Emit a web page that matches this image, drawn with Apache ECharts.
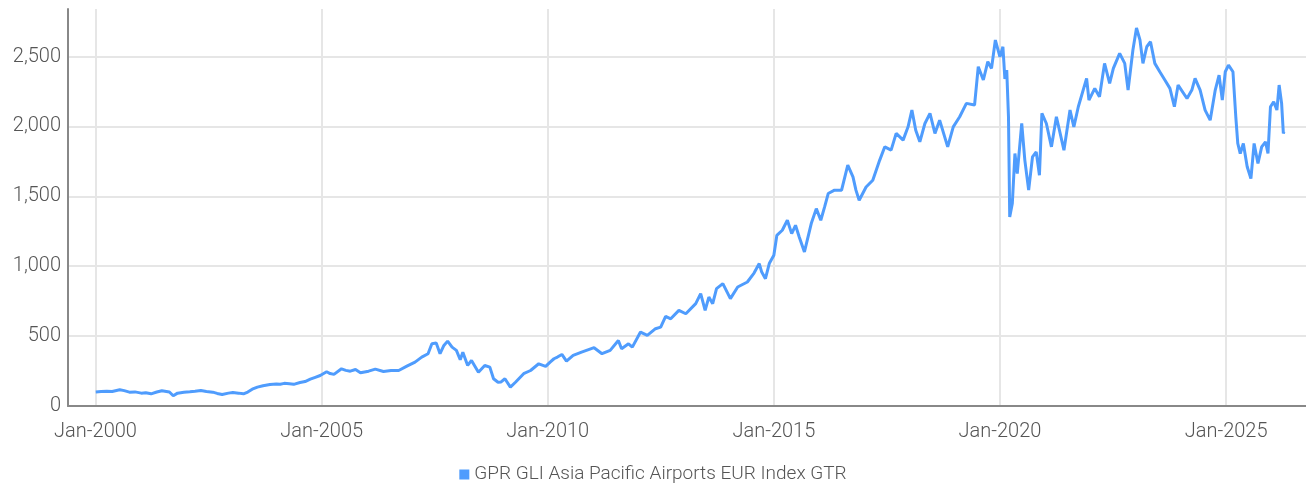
<!DOCTYPE html>
<html>
<head>
<meta charset="utf-8">
<script src="https://cdn.jsdelivr.net/npm/echarts@6/dist/echarts.min.js"></script>
<style>
  html, body { margin: 0; padding: 0; background: #fff; }
  #chart { width: 1306px; height: 493px; }
</style>
</head>
<body>
<div id="chart"></div>
<script>
const seriesName = 'GPR GLI Asia Pacific Airports EUR Index GTR'

const dates = [
  '2000-01-03', '2000-02-15', '2000-04-01', '2000-05-15', '2000-07-15', '2000-08-20', '2000-10-01', '2000-11-15',
  '2001-01-05', '2001-02-10', '2001-03-25', '2001-05-10', '2001-06-20', '2001-08-20', '2001-09-20', '2001-10-25', '2001-12-15',
  '2002-02-01', '2002-03-15', '2002-05-01', '2002-06-15', '2002-08-05', '2002-09-10', '2002-10-20', '2002-12-10',
  '2003-01-15', '2003-03-01', '2003-04-10', '2003-05-15', '2003-06-20', '2003-08-01', '2003-09-15', '2003-11-10',
  '2004-01-01', '2004-02-01', '2004-03-05', '2004-04-15', '2004-05-20', '2004-07-10', '2004-08-20', '2004-10-01', '2004-11-10', '2004-12-20',
  '2005-02-10', '2005-03-10', '2005-04-10', '2005-06-10', '2005-07-15', '2005-08-20', '2005-10-01', '2005-11-10',
  '2006-01-15', '2006-03-10', '2006-05-15', '2006-07-15', '2006-09-15', '2006-11-20',
  '2007-01-25', '2007-03-20', '2007-05-10', '2007-06-10', '2007-07-15', '2007-08-15', '2007-09-15', '2007-10-15', '2007-11-20', '2007-12-25',
  '2008-01-25', '2008-02-15', '2008-03-25', '2008-04-25', '2008-06-20', '2008-08-10', '2008-09-20', '2008-10-20', '2008-11-25', '2008-12-20',
  '2009-01-20', '2009-03-05', '2009-04-15', '2009-06-20', '2009-08-15', '2009-10-20', '2009-12-15',
  '2010-01-20', '2010-02-20', '2010-03-20', '2010-04-25', '2010-06-01', '2010-07-25', '2010-10-01',
  '2011-01-10', '2011-03-15', '2011-05-20', '2011-07-25', '2011-08-20', '2011-10-15', '2011-11-15',
  '2012-01-20', '2012-03-15', '2012-05-20', '2012-07-01', '2012-08-10', '2012-09-20', '2012-11-25',
  '2013-01-20', '2013-04-10', '2013-05-20', '2013-06-25', '2013-07-25', '2013-08-25', '2013-09-25', '2013-11-15',
  '2014-01-15', '2014-03-15', '2014-06-01', '2014-07-25', '2014-09-05', '2014-09-25', '2014-10-25', '2014-11-25',
  '2015-01-01', '2015-01-25', '2015-03-10', '2015-04-20', '2015-05-25', '2015-06-25', '2015-07-25', '2015-09-05', '2015-10-30', '2015-12-10',
  '2016-01-15', '2016-02-15', '2016-03-15', '2016-05-05', '2016-07-01', '2016-08-20', '2016-10-01', '2016-10-25', '2016-11-20',
  '2017-01-15', '2017-03-10', '2017-05-05', '2017-06-15', '2017-08-05', '2017-09-15', '2017-11-10', '2017-12-20',
  '2018-01-20', '2018-02-20', '2018-03-25', '2018-05-05', '2018-06-15', '2018-07-25', '2018-09-01', '2018-11-05', '2018-12-20',
  '2019-02-10', '2019-04-05', '2019-06-10', '2019-07-10', '2019-08-20', '2019-09-25', '2019-10-25', '2019-11-25',
  '2020-01-01', '2020-01-25', '2020-02-10', '2020-02-25', '2020-03-10', '2020-03-20', '2020-04-10', '2020-05-01', '2020-05-20',
  '2020-06-25', '2020-07-20', '2020-08-20', '2020-09-20', '2020-10-20', '2020-11-15', '2020-12-05',
  '2021-01-10', '2021-02-20', '2021-04-01', '2021-06-01', '2021-07-20', '2021-08-20', '2021-09-25', '2021-12-01', '2021-12-20',
  '2022-02-05', '2022-03-15', '2022-04-25', '2022-06-05', '2022-07-05', '2022-08-25', '2022-10-05', '2022-11-01', '2022-12-10',
  '2023-01-08', '2023-02-05', '2023-03-01', '2023-04-01', '2023-05-01', '2023-06-05', '2023-07-15', '2023-08-25', '2023-10-05', '2023-11-10', '2023-12-10',
  '2024-02-20', '2024-03-30', '2024-04-25', '2024-06-05', '2024-07-15', '2024-08-25', '2024-10-05', '2024-11-05', '2024-12-01', '2024-12-25',
  '2025-01-20', '2025-02-25', '2025-03-20', '2025-04-05', '2025-04-25', '2025-05-20', '2025-06-20', '2025-07-20', '2025-08-15',
  '2025-09-15', '2025-10-15', '2025-11-15', '2025-12-05', '2025-12-25',
  '2026-01-20', '2026-02-15', '2026-03-05', '2026-03-25', '2026-04-08', '2026-04-14'
]

const values = [
  100, 103, 106, 104, 116, 110, 99, 101,
  92, 95, 87, 100, 109, 100, 73, 92, 98,
  102, 106, 111, 104, 99, 90, 82, 92,
  97, 92, 87, 100, 120, 135, 145, 154,
  158, 156, 162, 159, 155, 168, 175, 192, 205, 218,
  245, 232, 226, 266, 255, 249, 261, 238,
  249, 264, 247, 254, 254, 285,
  314, 350, 374, 445, 450, 374, 433, 464, 421, 398,
  331, 385, 290, 326, 242, 290, 278, 195, 170, 172,
  195, 135, 170, 231, 254, 302, 283,
  314, 338, 350, 369, 321, 362, 385,
  417, 374, 398, 469, 410, 445, 421,
  529, 505, 553, 564, 641, 624, 684,
  660, 732, 804, 684, 779, 732, 840, 875,
  768, 851, 887, 951, 1019, 958, 911, 1019,
  1078, 1220, 1257, 1329, 1233, 1293, 1209, 1102, 1305, 1412,
  1329, 1424, 1520, 1544, 1544, 1723, 1639, 1544, 1472,
  1567, 1615, 1759, 1854, 1830, 1950, 1902, 1997,
  2117, 1973, 1890, 2021, 2093, 1950, 2045, 1854, 1997,
  2069, 2165, 2153, 2427, 2332, 2463, 2415, 2618,
  2498, 2570, 2340, 2403, 2069, 1352, 1448, 1806, 1663,
  2021, 1759, 1544, 1782, 1818, 1651, 2093,
  2021, 1854, 2069, 1830, 2117, 1997, 2141, 2344, 2188,
  2272, 2212, 2451, 2308, 2415, 2523, 2451, 2260, 2547,
  2705, 2618, 2451, 2570, 2606, 2451, 2391, 2332, 2272, 2141, 2296,
  2200, 2260, 2344, 2260, 2117, 2045, 2260, 2367, 2188, 2391,
  2439, 2391, 2069, 1878, 1806, 1878, 1711, 1627, 1878,
  1735, 1854, 1890, 1806, 2141,
  2176, 2117, 2296, 2165, 1950, 1961
]

const yTicks = [0, 500, 1000, 1500, 2000, 2500]
const xTickYears = [2000, 2005, 2010, 2015, 2020, 2025]

const chart = echarts.init(document.getElementById('chart'))
const font = 'Roboto'
const xTicks = xTickYears.map(y => Date.UTC(y, 0, 1))

const option = {
  animation: false,
  grid: {
    left: 68,
    right: 0,
    top: 9,
    bottom: 87
  },
  legend: {
    bottom: 4,
    left: 'center',
    icon: 'rect',
    itemWidth: 10,
    itemHeight: 10,
    itemGap: 4,
    textStyle: {
      fontFamily: font,
      fontWeight: 300,
      fontSize: 19,
      color: '#555'
    },
    data: [seriesName]
  },
  xAxis: {
    type: 'value',
    min: Date.UTC(1999, 4, 24),
    max: Date.UTC(2026, 9, 8),
    offset: 2,
    axisLine: { lineStyle: { color: '#888', width: 2 } },
    axisTick: { show: false, customValues: xTicks },
    splitLine: { show: true, lineStyle: { color: '#e6e6e6', width: 2 } },
    axisLabel: {
      customValues: xTicks,
      margin: 14,
      fontFamily: font,
      fontWeight: 300,
      fontSize: 20,
      color: '#555',
      formatter: v => 'Jan-' + new Date(v).getUTCFullYear()
    }
  },
  yAxis: {
    type: 'value',
    min: 0,
    max: 2840,
    interval: 500,
    axisLine: { show: true, lineStyle: { color: '#888', width: 2 } },
    axisTick: { show: false },
    splitLine: { show: true, showMaxLine: false, lineStyle: { color: '#e6e6e6', width: 2 } },
    axisLabel: {
      showMaxLabel: false,
      margin: 7,
      fontFamily: font,
      fontWeight: 300,
      fontSize: 20,
      color: '#555',
      formatter: v => yTicks.includes(v) ? v.toLocaleString('en-US') : ''
    }
  },
  series: [
    {
      name: seriesName,
      type: 'line',
      showSymbol: false,
      symbol: 'none',
      lineStyle: { color: '#4f9cfd', width: 3 },
      itemStyle: { color: '#4f9cfd' },
      data: dates.map((d, i) => [Date.parse(d), values[i]])
    }
  ]
}

chart.setOption(option)
</script>
</body>
</html>
